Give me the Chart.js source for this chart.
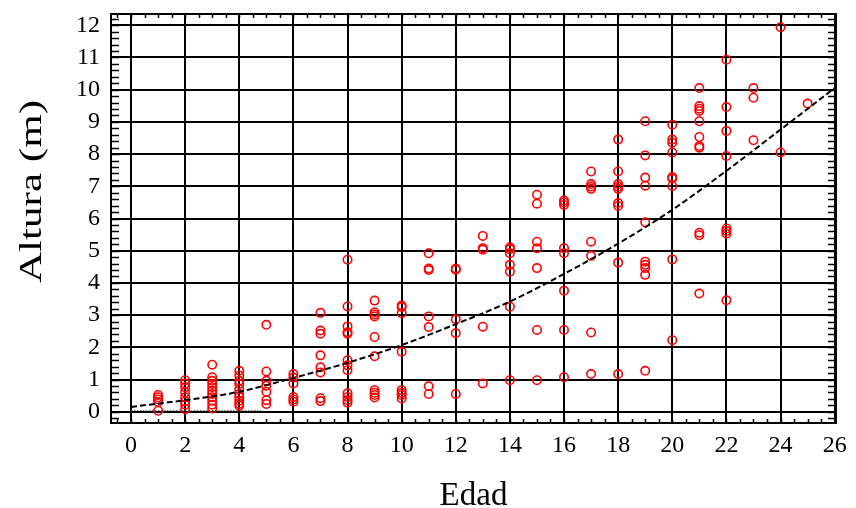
<!DOCTYPE html>
<html><head><meta charset="utf-8">
<script src="https://cdn.jsdelivr.net/npm/chart.js@4.4.0/dist/chart.umd.min.js"></script>
<style>html,body{margin:0;padding:0;background:#fff}#wrap{width:856px;height:508px}</style>
</head><body><div id="wrap"><canvas id="c" width="856" height="508"></canvas></div>
<script>
// ---- Data ----
const edades = [1,2,3,4,5,6,7,8,9,10,11,12,13,14,15,16,17,18,19,20,21,22,23,24,25];
const alturas = [
  [0.52,0.45,0.38,0.30,0.03],
  [0.98,0.88,0.76,0.60,0.45,0.32,0.22,0.08],
  [1.46,1.07,0.96,0.86,0.76,0.65,0.55,0.45,0.34,0.22,0.10],
  [1.27,1.12,0.96,0.86,0.70,0.55,0.45,0.34,0.25,0.19],
  [2.70,1.25,0.96,0.81,0.62,0.36,0.24],
  [1.17,1.06,0.88,0.46,0.38,0.31],
  [3.07,2.52,2.42,1.75,1.38,1.22,0.42,0.33],
  [4.72,3.27,2.65,2.47,2.42,1.60,1.44,1.29,0.57,0.46,0.36,0.28],
  [3.45,3.09,3.02,2.96,2.32,1.72,0.67,0.59,0.52,0.44],
  [3.30,3.25,3.06,1.86,0.67,0.59,0.52,0.41],
  [4.92,4.45,4.40,2.96,2.63,0.79,0.55],
  [4.45,4.41,2.87,2.44,0.55],
  [5.46,5.08,5.03,2.64,0.88],
  [5.11,5.05,4.92,4.56,4.35,3.26,0.98],
  [6.74,6.46,5.28,5.08,4.46,2.54,0.98],
  [6.56,6.50,6.42,5.08,4.92,3.76,2.54,1.07],
  [7.46,7.07,6.99,6.92,5.28,4.84,2.46,1.17],
  [8.45,7.46,7.07,6.99,6.92,6.48,6.39,4.63,1.17],
  [9.02,7.96,7.27,7.02,5.88,4.66,4.56,4.46,4.25,1.27],
  [8.91,8.45,8.35,8.05,7.29,7.24,7.01,4.73,2.22],
  [10.05,9.49,9.41,9.34,9.02,8.53,8.25,8.20,5.56,5.48,3.67],
  [10.93,9.46,8.72,7.94,5.69,5.61,5.53,3.46],
  [10.05,9.75,8.43],
  [11.94,8.05],
  [9.57]
];
const curvaEdad   = [0,2,4,6,8,10,12,14,16,18,20,22,24,26];
const curvaAltura = [0.15,0.36,0.62,1.05,1.52,2.07,2.72,3.42,4.28,5.22,6.27,7.48,8.76,10.05];
const bandaEdad   = [0,4.8];
const bandaAltura = [0.04,0.04];
const xTicks = [0,2,4,6,8,10,12,14,16,18,20,22,24,26];
const yTicks = [0,1,2,3,4,5,6,7,8,9,10,11,12];
const xTitulo = 'Edad';
const yTitulo = 'Altura (m)';

// ---- Build datasets ----
const puntos = [];
edades.forEach((e,i) => alturas[i].forEach(h => puntos.push({x:e, y:h})));
const curva = curvaEdad.map((e,i) => ({x:e, y:curvaAltura[i]}));
const banda = bandaEdad.map((e,i) => ({x:e, y:bandaAltura[i]}));

const FONT = "'Liberation Serif', 'Times New Roman', serif";

const framePlugin = {
  id: 'frame',
  afterDraw(chart) {
    const {ctx, chartArea: a, scales: {x, y}} = chart;
    ctx.save();
    ctx.strokeStyle = '#000';
    ctx.lineWidth = 1.5;
    ctx.beginPath();
    for (let k = Math.ceil(y.min * 5); k <= Math.floor(y.max * 5); k++) {
      const py = Math.round(y.getPixelForValue(k / 5)) + 0.5;
      ctx.moveTo(a.left, py); ctx.lineTo(a.left + 8, py);
      ctx.moveTo(a.right, py); ctx.lineTo(a.right - 8, py);
    }
    for (let k = Math.ceil(x.min * 2); k <= Math.floor(x.max * 2); k++) {
      const px = Math.round(x.getPixelForValue(k / 2)) + 0.5;
      ctx.moveTo(px, a.top); ctx.lineTo(px, a.top + 4);
      ctx.moveTo(px, a.bottom); ctx.lineTo(px, a.bottom - 4);
    }
    ctx.stroke();
    ctx.lineWidth = 2;
    ctx.strokeRect(a.left, a.top, a.right - a.left, a.bottom - a.top);
    // y axis title
    ctx.fillStyle = '#000';
    ctx.font = "31px " + FONT;
    ctx.textAlign = 'center';
    ctx.textBaseline = 'middle';
    const w = ctx.measureText(yTitulo).width;
    ctx.translate(33, 191.5);
    ctx.rotate(-Math.PI / 2);
    ctx.scale(183 / w, 1);
    ctx.fillText(yTitulo, 0, 0);
    ctx.restore();
  }
};

function noPad(s) { s.paddingTop = 0; s.paddingBottom = 0; s.paddingLeft = 0; s.paddingRight = 0; }

new Chart(document.getElementById('c'), {
  type: 'scatter',
  data: {
    datasets: [
      {
        label: 'Altura',
        data: puntos,
        showLine: false,
        pointStyle: 'circle',
        pointRadius: 4.2,
        pointBorderWidth: 1.6,
        pointBorderColor: '#ff0000',
        pointBackgroundColor: 'rgba(0,0,0,0)',
        order: 1
      },
      {
        label: 'Ajuste',
        data: curva,
        showLine: true,
        borderColor: '#000',
        borderWidth: 2,
        borderDash: [6, 3],
        pointRadius: 0,
        tension: 0.4,
        cubicInterpolationMode: 'monotone',
        order: 0
      },
      {
        label: 'Banda',
        data: banda,
        showLine: true,
        borderColor: '#666',
        borderWidth: 1,
        borderDash: [1.5, 1.5],
        pointRadius: 0,
        order: 2
      }
    ]
  },
  options: {
    responsive: false,
    animation: false,
    devicePixelRatio: 1,
    layout: { padding: { top: 14, right: 20, left: 0, bottom: 0 } },
    plugins: { legend: { display: false }, tooltip: { enabled: false } },
    scales: {
      x: {
        type: 'linear',
        min: -0.74,
        max: 26.05,
        afterBuildTicks: s => { s.ticks = xTicks.map(v => ({ value: v })); },
        afterFit: s => { s.height = 85; noPad(s); },
        ticks: { font: { family: FONT, size: 24 }, color: '#000', padding: 8, maxRotation: 0, autoSkip: false },
        grid: { color: '#000', lineWidth: 2, drawTicks: false },
        border: { display: true, color: '#000', width: 2 },
        title: { display: true, text: xTitulo, color: '#000', font: { family: FONT, size: 33 }, padding: { top: 0, bottom: -8 } }
      },
      y: {
        type: 'linear',
        min: -0.35,
        max: 12.35,
        afterBuildTicks: s => { s.ticks = yTicks.map(v => ({ value: v })); },
        afterFit: s => { s.width = 111; noPad(s); },
        ticks: { font: { family: FONT, size: 24 }, color: '#000', padding: 11, autoSkip: false },
        grid: { color: '#000', lineWidth: 2, drawTicks: false },
        border: { display: true, color: '#000', width: 2 },
        title: { display: false, text: yTitulo }
      }
    }
  },
  plugins: [framePlugin]
});
</script>
</body></html>
